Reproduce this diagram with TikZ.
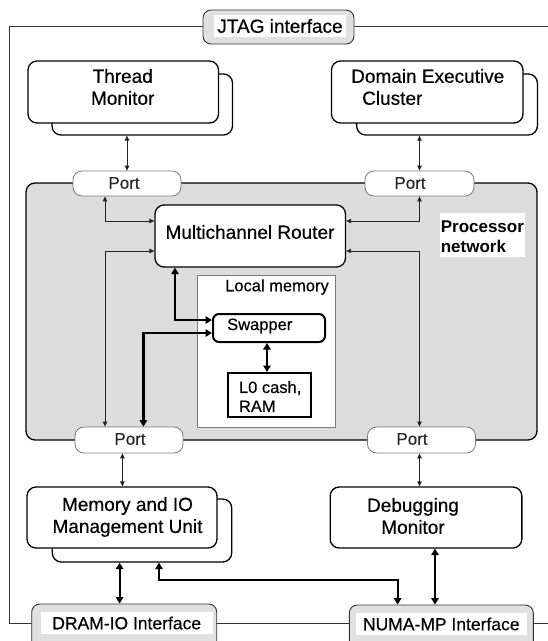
\documentclass[tikz,border=0pt]{standalone}
\usepackage{fontspec}
\setmainfont{Liberation Sans}
\newfontfamily\heavyfont{Liberation Sans}[FakeBold=0.4]
\usetikzlibrary{arrows.meta,calc}
\definecolor{procgray}{HTML}{DCDCDC}
\definecolor{ifgray}{HTML}{E0E0E0}
\definecolor{portline}{HTML}{7A7A7A}
\definecolor{frameline}{HTML}{333333}
\definecolor{thinline}{HTML}{222222}
\begin{document}
\begin{tikzpicture}[x=1pt,y=-1pt,
  rbox/.style={draw=black, line width=1.3pt, fill=white, rounded corners=9pt, inner sep=0pt},
  portbox/.style={draw=portline, line width=0.8pt, fill=white, rounded corners=9pt, inner sep=0pt, minimum width=108pt, minimum height=25pt},
  ifbox/.style={draw=frameline, line width=0.9pt, fill=ifgray, rounded corners=8pt, inner sep=0pt},
  bigtxt/.style={font=\heavyfont\fontsize{19}{22}\selectfont, inner sep=0pt, align=center},
  smalltxt/.style={font=\heavyfont\fontsize{16.5}{19}\selectfont, inner sep=0pt, align=left},
  porttxt/.style={font=\heavyfont\fontsize{17}{20}\selectfont, inner sep=0pt, text=black!85},
  iftxt/.style={font=\heavyfont\fontsize{18}{21}\selectfont, inner sep=0pt, fill=white},
  tarr/.style={draw=thinline, line width=0.9pt, {Triangle[length=5pt,width=4.5pt]}-{Triangle[length=5pt,width=4.5pt]}},
  karr/.style={line width=2.2pt, {Triangle[length=6.5pt,width=7.5pt]}-{Triangle[length=6.5pt,width=7.5pt]}}
]
\useasboundingbox (0,0) rectangle (548,641);
\clip (0,0) rectangle (548,641);
\fill[white] (0,0) rectangle (548,641);

% outer frame
\draw[frameline, line width=0.9pt] (9,26) rectangle (600,623);

% JTAG
\node[ifbox, minimum width=151pt, minimum height=34pt] (jtag) at (278.5,27) {};
\node[iftxt, font=\heavyfont\fontsize{19}{22}\selectfont, minimum width=132pt, minimum height=22pt] (jtagT) at (280,26) {JTAG interface};

% Thread Monitor
\node[rbox, minimum width=180.5pt, minimum height=61pt] (tmS) at (142.25,104.5) {};
\node[rbox, minimum width=190.5pt, minimum height=62pt] (tmF) at (123.25,92) {};
\node[bigtxt] (tmT) at (122.7,87) {Thread\\Monitor};

% Domain Executive Cluster
\node[rbox, minimum width=180.8pt, minimum height=61pt] (decS) at (447,104.5) {};
\node[rbox, minimum width=191.5pt, minimum height=62pt] (decF) at (427.25,92) {};
\node[bigtxt, align=left, anchor=west] (decT) at (351,87) {Domain Executive\\\hspace*{11pt}Cluster};

% Processor network
\node[draw=black, line width=1.3pt, fill=procgray, rounded corners=9pt, minimum width=511pt, minimum height=257pt, inner sep=0pt] (proc) at (281.5,311.5) {};
\node[fill=white, minimum width=85pt, minimum height=44pt, inner sep=0pt] (procL) at (482,235) {};
\node[font=\bfseries\fontsize{17}{20}\selectfont, inner sep=0pt, align=left, anchor=west] (procT) at (440.6,236.7) {Processor\\network};

% Ports
\node[portbox] (portTL) at (127,183.5) {};
\node[portbox, minimum width=109pt] (portTR) at (419.5,183.5) {};
\node[portbox, minimum height=26pt] (portBL) at (129,440) {};
\node[portbox, minimum height=26pt] (portBR) at (421.5,440) {};
\node[porttxt] (portTLt) at (124,183) {Port};
\node[porttxt] (portTRt) at (410,183) {Port};
\node[porttxt] (portBLt) at (130,439) {Port};
\node[porttxt] (portBRt) at (412,439) {Port};

% Router
\node[rbox, minimum width=190.5pt, minimum height=62pt] (router) at (250.25,236) {};
\node[bigtxt] (routerT) at (250,232) {Multichannel Router};

% Local memory
\node[draw=portline, line width=0.8pt, fill=white, minimum width=138pt, minimum height=152pt, inner sep=0pt] (lmem) at (266.6,351) {};
\node[smalltxt, anchor=east] (lmemT) at (329,287) {Local memory};
\node[draw=black, line width=2pt, fill=white, rounded corners=6pt, minimum width=112pt, minimum height=28pt, inner sep=0pt] (swap) at (269,328) {};
\node[smalltxt, anchor=west] (swapT) at (227,326) {Swapper};
\node[draw=black, line width=2pt, fill=white, minimum width=83pt, minimum height=44pt, inner sep=0pt] (lzero) at (269.5,395) {};
\node[smalltxt, anchor=west] (lzeroT) at (238.8,396.5) {L0 cash,\\RAM};

% Memory and IO Management Unit
\node[rbox, minimum width=179.4pt, minimum height=63pt] (mioS) at (142,530.5) {};
\node[rbox, minimum width=190pt, minimum height=61pt] (mioF) at (122,517.5) {};
\node[bigtxt] (mioT) at (127.5,517) {Memory and IO\\Management Unit};

% Debugging Monitor
\node[rbox, minimum width=191.7pt, minimum height=61pt] (dbg) at (426,517.5) {};
\node[bigtxt] (dbgT) at (413,516) {Debugging\\Monitor};

% Interfaces at bottom
\node[ifbox, minimum width=185pt, minimum height=60pt] (dram) at (124.2,634) {};
\node[iftxt, font=\heavyfont\fontsize{17.5}{21}\selectfont, minimum width=172pt, minimum height=22pt] (dramT) at (126.7,623) {DRAM-IO Interface};
\node[ifbox, minimum width=184pt, minimum height=60pt] (numa) at (441.3,635) {};
\node[iftxt, font=\heavyfont\fontsize{17.5}{21}\selectfont, minimum width=171pt, minimum height=22pt] (numaT) at (441.3,624) {NUMA-MP Interface};

% helper coordinates
\coordinate (xL) at (105,0);
\coordinate (xT1) at (175,0);
\coordinate (xT2) at (143.4,0);
\coordinate (xS) at (267,0);
\coordinate (xM) at (122.4,0);
\coordinate (xD) at (119.6,0);
\coordinate (xN1) at (159,0);
\coordinate (xN2) at (397.6,0);
\coordinate (xN3) at (435,0);
\coordinate (yC) at (0,580);

% thin connectors
\draw[tarr] (portTL.north) -- (portTL.north |- tmS.south);
\draw[tarr] (portTR.north) -- (portTR.north |- decS.south);
\draw[tarr] (xL |- portTL.south) |- ([yshift=15pt]router.west);
\draw[tarr] (portTR.south) |- ([yshift=15pt]router.east);
\draw[tarr] ([yshift=-15pt]router.west) -| (xL |- portBL.north);
\draw[tarr] ([yshift=-15pt]router.east) -| (portTR.south |- portBR.north);
\draw[tarr] (xM |- portBL.south) -- (xM |- mioF.north);
\draw[tarr] (portTR.south |- portBR.south) -- (portTR.south |- dbg.north);

% thick connectors
\draw[karr] (xT1 |- router.south) |- ([yshift=8pt]swap.west);
\draw[karr] (xT2 |- portBL.north) |- ([yshift=-5pt]swap.west);
\draw[karr] (xS |- swap.south) -- (xS |- lzero.north);
\draw[karr] (xD |- mioS.south) -- (xD |- dram.north);
\draw[karr] (xN1 |- mioS.south) -- (xN1 |- yC) -| (xN2 |- numa.north);
\draw[karr] (xN3 |- dbg.south) -- (xN3 |- numa.north);
\end{tikzpicture}
\end{document}
